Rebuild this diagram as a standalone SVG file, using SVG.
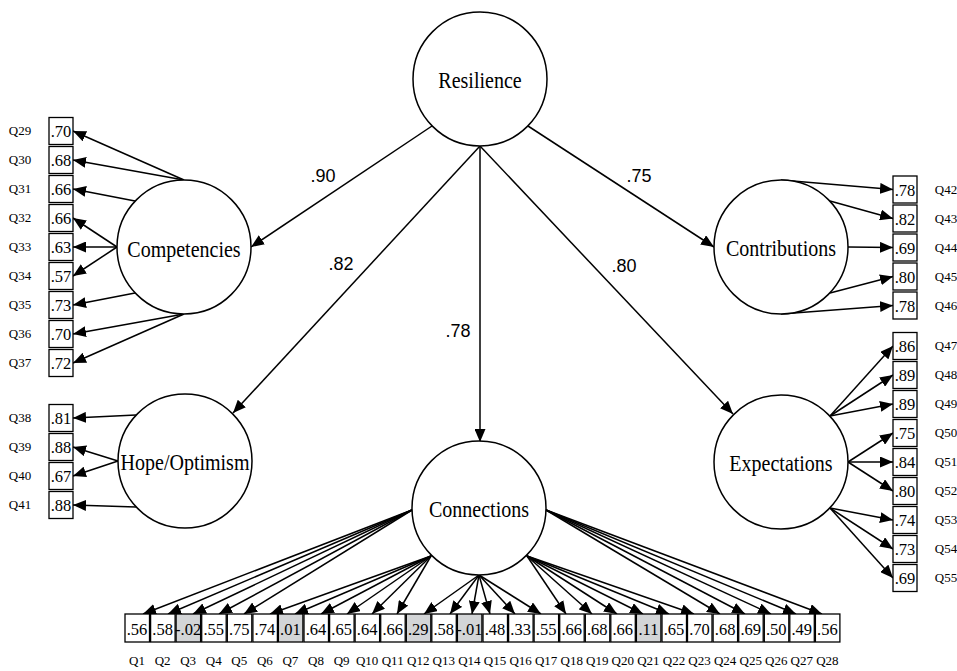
<svg xmlns="http://www.w3.org/2000/svg" width="957" height="671" viewBox="0 0 957 671">
<defs>
<marker id="ah" markerUnits="userSpaceOnUse" markerWidth="14" markerHeight="11" refX="13" refY="5.5" orient="auto">
<path d="M0,0 L13,5.5 L0,11 z" fill="#000"/>
</marker>
<style>
.lat{fill:#fff;stroke:#000;stroke-width:1.5}
.lt{font-family:"Liberation Serif","Times New Roman",serif;font-size:23px;text-anchor:middle;fill:#000}
.box{fill:#fff;stroke:#000;stroke-width:1.3}
.gbox{fill:#d3d5d7;stroke:#000;stroke-width:1.3}
.val{font-family:"Liberation Serif","Times New Roman",serif;font-size:16.5px;text-anchor:middle;fill:#000}
.q{font-family:"Liberation Serif","Times New Roman",serif;font-size:13px;text-anchor:middle;fill:#000}
.coef{font-family:"Liberation Sans",Arial,sans-serif;font-size:18px;text-anchor:middle;fill:#000}
#conn line{stroke:#000;stroke-width:1.5;marker-end:url(#ah)}
</style>
</defs>
<rect width="957" height="671" fill="#fff"/>

<g id="conn">
<line x1="432" y1="126" x2="251" y2="247"/>
<line x1="480" y1="146" x2="233" y2="413"/>
<line x1="480" y1="146" x2="480" y2="442"/>
<line x1="480" y1="146" x2="733" y2="414"/>
<line x1="528" y1="126" x2="714" y2="247"/>
<line x1="184" y1="180" x2="73" y2="131"/>
<line x1="184" y1="180" x2="73" y2="160"/>
<line x1="135" y1="201" x2="73" y2="189"/>
<line x1="117" y1="247" x2="73" y2="218"/>
<line x1="117" y1="247" x2="73" y2="247"/>
<line x1="117" y1="247" x2="73" y2="276"/>
<line x1="135" y1="293" x2="73" y2="305"/>
<line x1="184" y1="314" x2="73" y2="334"/>
<line x1="184" y1="314" x2="73" y2="363"/>
<line x1="136" y1="415" x2="73" y2="418"/>
<line x1="118" y1="461" x2="73" y2="447"/>
<line x1="118" y1="461" x2="73" y2="476"/>
<line x1="136" y1="507" x2="73" y2="505"/>
<line x1="781" y1="180" x2="893" y2="189.5"/>
<line x1="830" y1="201" x2="893" y2="218.5"/>
<line x1="848" y1="247" x2="893" y2="247.5"/>
<line x1="830" y1="293" x2="893" y2="276.5"/>
<line x1="781" y1="314" x2="893" y2="305.5"/>
<line x1="830" y1="416" x2="893" y2="346"/>
<line x1="830" y1="416" x2="893" y2="375"/>
<line x1="830" y1="416" x2="893" y2="404"/>
<line x1="848" y1="462" x2="893" y2="433"/>
<line x1="848" y1="462" x2="893" y2="462"/>
<line x1="848" y1="462" x2="893" y2="491"/>
<line x1="830" y1="508" x2="893" y2="520"/>
<line x1="830" y1="508" x2="893" y2="549"/>
<line x1="830" y1="508" x2="893" y2="578"/>
<line x1="412" y1="510" x2="143" y2="614"/>
<line x1="412" y1="510" x2="168" y2="614"/>
<line x1="412" y1="510" x2="193" y2="614"/>
<line x1="412" y1="510" x2="219" y2="614"/>
<line x1="412" y1="510" x2="244" y2="614"/>
<line x1="431" y1="556" x2="270" y2="614"/>
<line x1="431" y1="556" x2="295" y2="614"/>
<line x1="431" y1="556" x2="321" y2="614"/>
<line x1="431" y1="556" x2="347" y2="614"/>
<line x1="431" y1="556" x2="372" y2="614"/>
<line x1="431" y1="556" x2="397" y2="614"/>
<line x1="479" y1="575" x2="424" y2="614"/>
<line x1="479" y1="575" x2="450" y2="614"/>
<line x1="479" y1="575" x2="472" y2="614"/>
<line x1="479" y1="575" x2="490" y2="614"/>
<line x1="479" y1="575" x2="515" y2="614"/>
<line x1="479" y1="575" x2="541" y2="614"/>
<line x1="527" y1="556" x2="566" y2="614"/>
<line x1="527" y1="556" x2="592" y2="614"/>
<line x1="527" y1="556" x2="617" y2="614"/>
<line x1="527" y1="556" x2="643" y2="614"/>
<line x1="527" y1="556" x2="669" y2="614"/>
<line x1="527" y1="556" x2="694" y2="614"/>
<line x1="546" y1="510" x2="720" y2="614"/>
<line x1="546" y1="510" x2="745" y2="614"/>
<line x1="546" y1="510" x2="771" y2="614"/>
<line x1="546" y1="510" x2="796" y2="614"/>
<line x1="546" y1="510" x2="822" y2="614"/>
</g>

<g id="coefs">
<text class="coef" x="323" y="182">.90</text>
<text class="coef" x="341" y="270">.82</text>
<text class="coef" x="458" y="337">.78</text>
<text class="coef" x="624" y="272">.80</text>
<text class="coef" x="639" y="182">.75</text>
</g>

<g id="resilience"><circle class="lat" cx="480" cy="79" r="67"/><text class="lt" transform="translate(480,88) scale(0.87,1)">Resilience</text></g>
<g id="competencies"><circle class="lat" cx="184" cy="247" r="67"/><text class="lt" transform="translate(184,257) scale(0.87,1)">Competencies</text></g>
<g id="hope"><circle class="lat" cx="185" cy="461" r="67"/><text class="lt" transform="translate(185,470) scale(0.87,1)">Hope/Optimism</text></g>
<g id="connections"><circle class="lat" cx="479" cy="508" r="67"/><text class="lt" transform="translate(479,517) scale(0.87,1)">Connections</text></g>
<g id="contributions"><circle class="lat" cx="781" cy="247" r="67"/><text class="lt" transform="translate(781,256) scale(0.87,1)">Contributions</text></g>
<g id="expectations"><circle class="lat" cx="781" cy="462" r="67"/><text class="lt" transform="translate(781,471) scale(0.87,1)">Expectations</text></g>

<g id="Q29"><rect class="box" x="49" y="117.5" width="24" height="27"/><text class="val" x="61" y="137">.70</text><text class="q" x="20" y="135">Q29</text></g>
<g id="Q30"><rect class="box" x="49" y="146.5" width="24" height="27"/><text class="val" x="61" y="166">.68</text><text class="q" x="20" y="164">Q30</text></g>
<g id="Q31"><rect class="box" x="49" y="175.5" width="24" height="27"/><text class="val" x="61" y="195">.66</text><text class="q" x="20" y="193">Q31</text></g>
<g id="Q32"><rect class="box" x="49" y="204.5" width="24" height="27"/><text class="val" x="61" y="224">.66</text><text class="q" x="20" y="222">Q32</text></g>
<g id="Q33"><rect class="box" x="49" y="233.5" width="24" height="27"/><text class="val" x="61" y="253">.63</text><text class="q" x="20" y="251">Q33</text></g>
<g id="Q34"><rect class="box" x="49" y="262.5" width="24" height="27"/><text class="val" x="61" y="282">.57</text><text class="q" x="20" y="280">Q34</text></g>
<g id="Q35"><rect class="box" x="49" y="291.5" width="24" height="27"/><text class="val" x="61" y="311">.73</text><text class="q" x="20" y="309">Q35</text></g>
<g id="Q36"><rect class="box" x="49" y="320.5" width="24" height="27"/><text class="val" x="61" y="340">.70</text><text class="q" x="20" y="338">Q36</text></g>
<g id="Q37"><rect class="box" x="49" y="349.5" width="24" height="27"/><text class="val" x="61" y="369">.72</text><text class="q" x="20" y="367">Q37</text></g>
<g id="Q38"><rect class="box" x="49" y="404.5" width="24" height="27"/><text class="val" x="61" y="424">.81</text><text class="q" x="20" y="422">Q38</text></g>
<g id="Q39"><rect class="box" x="49" y="433.5" width="24" height="27"/><text class="val" x="61" y="453">.88</text><text class="q" x="20" y="451">Q39</text></g>
<g id="Q40"><rect class="box" x="49" y="462.5" width="24" height="27"/><text class="val" x="61" y="482">.67</text><text class="q" x="20" y="480">Q40</text></g>
<g id="Q41"><rect class="box" x="49" y="491.5" width="24" height="27"/><text class="val" x="61" y="511">.88</text><text class="q" x="20" y="509">Q41</text></g>

<g id="Q42"><rect class="box" x="893" y="176" width="24" height="27"/><text class="val" x="905" y="195.5">.78</text><text class="q" x="946" y="193.5">Q42</text></g>
<g id="Q43"><rect class="box" x="893" y="205" width="24" height="27"/><text class="val" x="905" y="224.5">.82</text><text class="q" x="946" y="222.5">Q43</text></g>
<g id="Q44"><rect class="box" x="893" y="234" width="24" height="27"/><text class="val" x="905" y="253.5">.69</text><text class="q" x="946" y="251.5">Q44</text></g>
<g id="Q45"><rect class="box" x="893" y="263" width="24" height="27"/><text class="val" x="905" y="282.5">.80</text><text class="q" x="946" y="280.5">Q45</text></g>
<g id="Q46"><rect class="box" x="893" y="292" width="24" height="27"/><text class="val" x="905" y="311.5">.78</text><text class="q" x="946" y="309.5">Q46</text></g>
<g id="Q47"><rect class="box" x="893" y="332.5" width="24" height="27"/><text class="val" x="905" y="352">.86</text><text class="q" x="946" y="350">Q47</text></g>
<g id="Q48"><rect class="box" x="893" y="361.5" width="24" height="27"/><text class="val" x="905" y="381">.89</text><text class="q" x="946" y="379">Q48</text></g>
<g id="Q49"><rect class="box" x="893" y="390.5" width="24" height="27"/><text class="val" x="905" y="410">.89</text><text class="q" x="946" y="408">Q49</text></g>
<g id="Q50"><rect class="box" x="893" y="419.5" width="24" height="27"/><text class="val" x="905" y="439">.75</text><text class="q" x="946" y="437">Q50</text></g>
<g id="Q51"><rect class="box" x="893" y="448.5" width="24" height="27"/><text class="val" x="905" y="468">.84</text><text class="q" x="946" y="466">Q51</text></g>
<g id="Q52"><rect class="box" x="893" y="477.5" width="24" height="27"/><text class="val" x="905" y="497">.80</text><text class="q" x="946" y="495">Q52</text></g>
<g id="Q53"><rect class="box" x="893" y="506.5" width="24" height="27"/><text class="val" x="905" y="526">.74</text><text class="q" x="946" y="524">Q53</text></g>
<g id="Q54"><rect class="box" x="893" y="535.5" width="24" height="27"/><text class="val" x="905" y="555">.73</text><text class="q" x="946" y="553">Q54</text></g>
<g id="Q55"><rect class="box" x="893" y="564.5" width="24" height="27"/><text class="val" x="905" y="584">.69</text><text class="q" x="946" y="582">Q55</text></g>

<g id="Q1"><rect class="box" x="125" y="614" width="24.5" height="28"/><text class="val" x="137" y="635">.56</text><text class="q" x="137" y="665">Q1</text></g>
<g id="Q2"><rect class="box" x="150.6" y="614" width="24.5" height="28"/><text class="val" x="162.6" y="635">.58</text><text class="q" x="162.6" y="665">Q2</text></g>
<g id="Q3"><rect class="gbox" x="176.1" y="614" width="24.5" height="28"/><text class="val" x="188.1" y="635">-.02</text><text class="q" x="188.1" y="665">Q3</text></g>
<g id="Q4"><rect class="box" x="201.7" y="614" width="24.5" height="28"/><text class="val" x="213.7" y="635">.55</text><text class="q" x="213.7" y="665">Q4</text></g>
<g id="Q5"><rect class="box" x="227.3" y="614" width="24.5" height="28"/><text class="val" x="239.3" y="635">.75</text><text class="q" x="239.3" y="665">Q5</text></g>
<g id="Q6"><rect class="box" x="252.9" y="614" width="24.5" height="28"/><text class="val" x="264.9" y="635">.74</text><text class="q" x="264.9" y="665">Q6</text></g>
<g id="Q7"><rect class="gbox" x="278.4" y="614" width="24.5" height="28"/><text class="val" x="290.4" y="635">.01</text><text class="q" x="290.4" y="665">Q7</text></g>
<g id="Q8"><rect class="box" x="304" y="614" width="24.5" height="28"/><text class="val" x="316" y="635">.64</text><text class="q" x="316" y="665">Q8</text></g>
<g id="Q9"><rect class="box" x="329.6" y="614" width="24.5" height="28"/><text class="val" x="341.6" y="635">.65</text><text class="q" x="341.6" y="665">Q9</text></g>
<g id="Q10"><rect class="box" x="355.1" y="614" width="24.5" height="28"/><text class="val" x="367.1" y="635">.64</text><text class="q" x="367.1" y="665">Q10</text></g>
<g id="Q11"><rect class="box" x="380.7" y="614" width="24.5" height="28"/><text class="val" x="392.7" y="635">.66</text><text class="q" x="392.7" y="665">Q11</text></g>
<g id="Q12"><rect class="gbox" x="406.3" y="614" width="24.5" height="28"/><text class="val" x="418.3" y="635">.29</text><text class="q" x="418.3" y="665">Q12</text></g>
<g id="Q13"><rect class="box" x="431.8" y="614" width="24.5" height="28"/><text class="val" x="443.8" y="635">.58</text><text class="q" x="443.8" y="665">Q13</text></g>
<g id="Q14"><rect class="gbox" x="457.4" y="614" width="24.5" height="28"/><text class="val" x="469.4" y="635">-.01</text><text class="q" x="469.4" y="665">Q14</text></g>
<g id="Q15"><rect class="box" x="483" y="614" width="24.5" height="28"/><text class="val" x="495" y="635">.48</text><text class="q" x="495" y="665">Q15</text></g>
<g id="Q16"><rect class="box" x="508.6" y="614" width="24.5" height="28"/><text class="val" x="520.6" y="635">.33</text><text class="q" x="520.6" y="665">Q16</text></g>
<g id="Q17"><rect class="box" x="534.1" y="614" width="24.5" height="28"/><text class="val" x="546.1" y="635">.55</text><text class="q" x="546.1" y="665">Q17</text></g>
<g id="Q18"><rect class="box" x="559.7" y="614" width="24.5" height="28"/><text class="val" x="571.7" y="635">.66</text><text class="q" x="571.7" y="665">Q18</text></g>
<g id="Q19"><rect class="box" x="585.3" y="614" width="24.5" height="28"/><text class="val" x="597.3" y="635">.68</text><text class="q" x="597.3" y="665">Q19</text></g>
<g id="Q20"><rect class="box" x="610.8" y="614" width="24.5" height="28"/><text class="val" x="622.8" y="635">.66</text><text class="q" x="622.8" y="665">Q20</text></g>
<g id="Q21"><rect class="gbox" x="636.4" y="614" width="24.5" height="28"/><text class="val" x="648.4" y="635">.11</text><text class="q" x="648.4" y="665">Q21</text></g>
<g id="Q22"><rect class="box" x="662" y="614" width="24.5" height="28"/><text class="val" x="674" y="635">.65</text><text class="q" x="674" y="665">Q22</text></g>
<g id="Q23"><rect class="box" x="687.5" y="614" width="24.5" height="28"/><text class="val" x="699.5" y="635">.70</text><text class="q" x="699.5" y="665">Q23</text></g>
<g id="Q24"><rect class="box" x="713.1" y="614" width="24.5" height="28"/><text class="val" x="725.1" y="635">.68</text><text class="q" x="725.1" y="665">Q24</text></g>
<g id="Q25"><rect class="box" x="738.7" y="614" width="24.5" height="28"/><text class="val" x="750.7" y="635">.69</text><text class="q" x="750.7" y="665">Q25</text></g>
<g id="Q26"><rect class="box" x="764.3" y="614" width="24.5" height="28"/><text class="val" x="776.3" y="635">.50</text><text class="q" x="776.3" y="665">Q26</text></g>
<g id="Q27"><rect class="box" x="789.8" y="614" width="24.5" height="28"/><text class="val" x="801.8" y="635">.49</text><text class="q" x="801.8" y="665">Q27</text></g>
<g id="Q28"><rect class="box" x="815.4" y="614" width="24.5" height="28"/><text class="val" x="827.4" y="635">.56</text><text class="q" x="827.4" y="665">Q28</text></g>
</svg>
